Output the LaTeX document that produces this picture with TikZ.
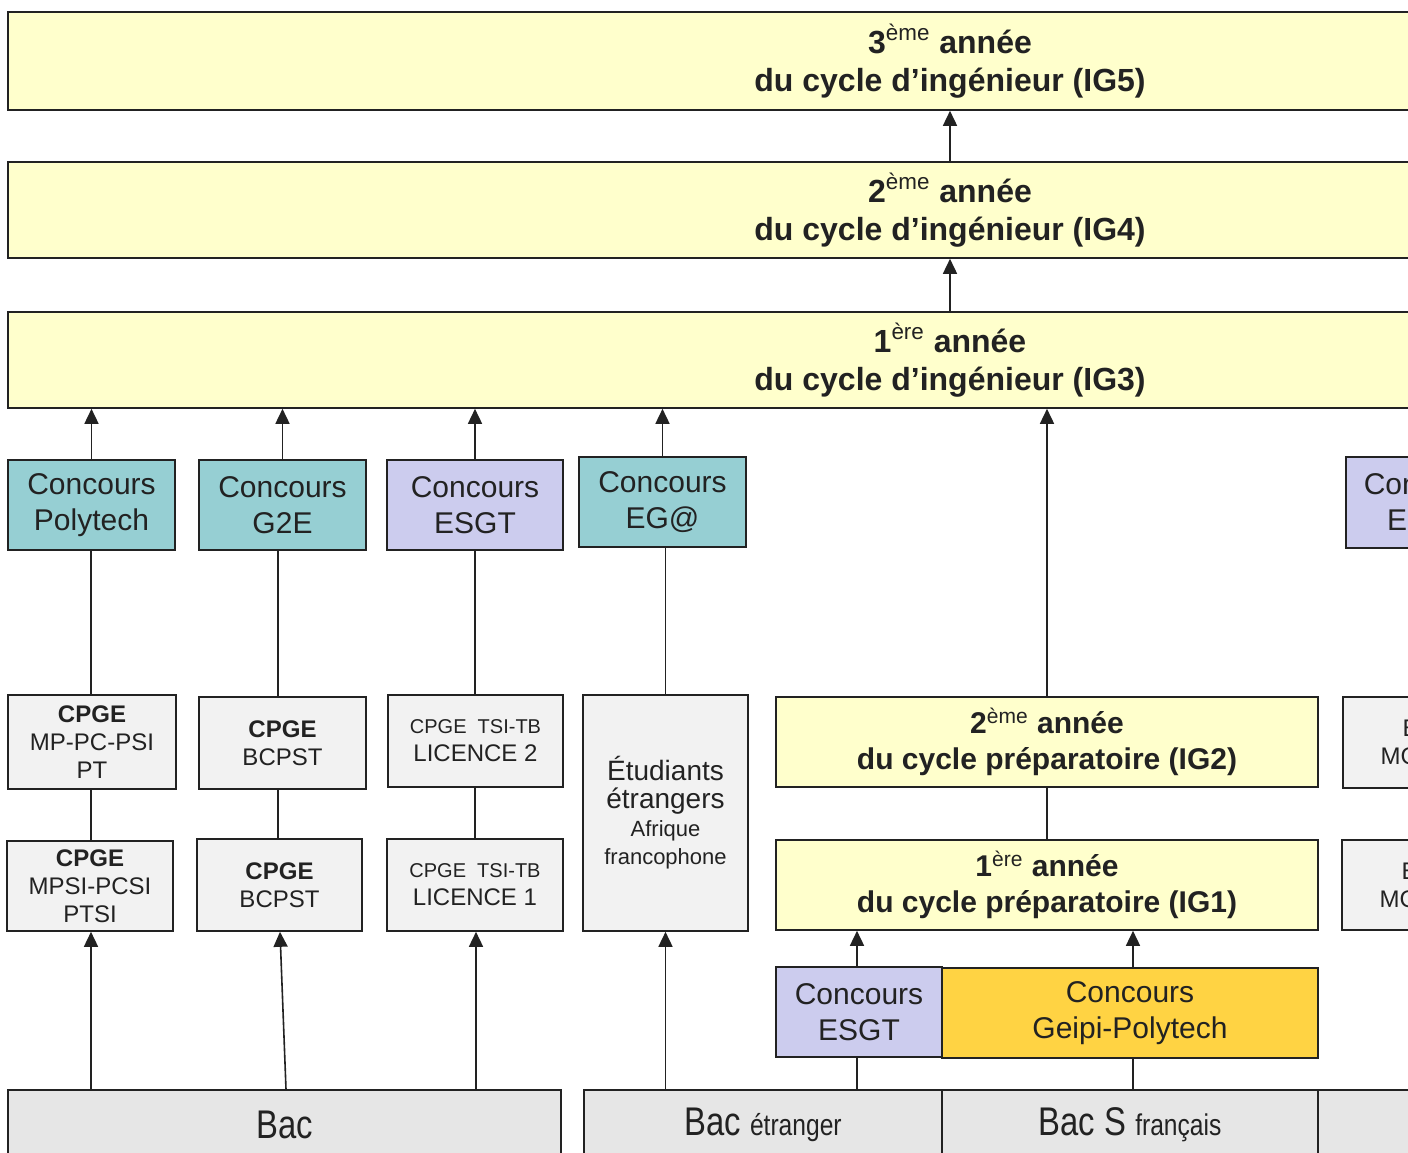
\documentclass[tikz,border=0pt]{standalone}
\usepackage{fontspec}
\setmainfont{Liberation Sans}
\newfontfamily\narrowfont[FakeStretch=0.82]{Liberation Sans}
\usetikzlibrary{arrows.meta, positioning}

\definecolor{igyellow}{HTML}{FFFFCC}
\definecolor{cteal}{HTML}{96CFD3}
\definecolor{clav}{HTML}{CCCCEE}
\definecolor{cgold}{HTML}{FFD343}
\definecolor{cgray}{HTML}{F2F2F2}
\definecolor{bacgray}{HTML}{E6E6E6}
\definecolor{ink}{HTML}{222222}

\tikzset{
  box/.style={draw=ink, line width=0.8pt, inner sep=0pt, align=center, text=ink},
  igbox/.style={box, fill=igyellow, font=\bfseries\fontsize{16}{19}\selectfont},
  prepbox/.style={box, fill=igyellow, font=\bfseries\fontsize{15}{18}\selectfont},
  tealbox/.style={box, fill=cteal, font=\fontsize{15}{18}\selectfont},
  lavbox/.style={box, fill=clav, font=\fontsize{15}{18}\selectfont},
  goldbox/.style={box, fill=cgold, font=\fontsize{15}{18}\selectfont},
  cpgebox/.style={box, fill=cgray, font=\fontsize{12}{14}\selectfont},
  bacbox/.style={box, fill=bacgray, font=\narrowfont},
  arr/.style={draw=ink, line width=0.8pt, -{Triangle[length=7.5pt,width=7pt]}},
  link/.style={draw=ink, line width=0.8pt}
}
\newcommand{\rangsup}[1]{\textsuperscript{\mdseries #1}}
\newcommand{\petit}[1]{{\fontsize{10}{14}\selectfont #1}}

\begin{document}
\begin{tikzpicture}[x=0.5pt, y=-0.5pt]
  \useasboundingbox (0,0) rectangle (1408,1152);
  \clip (0,0) rectangle (1408,1152);

  % Cycle d'ingenieur
  \node[igbox, minimum width=942pt, minimum height=49pt] (ig5) at (950,61)
    {3\rangsup{ème} année\\du cycle d’ingénieur (IG5)};
  \node[igbox, minimum width=942pt, minimum height=48pt] (ig4) at (950,210)
    {2\rangsup{ème} année\\du cycle d’ingénieur (IG4)};
  \node[igbox, minimum width=942pt, minimum height=48pt] (ig3) at (950,360)
    {1\rangsup{ère} année\\du cycle d’ingénieur (IG3)};

  % Concours
  \node[tealbox, minimum width=83.5pt, minimum height=45pt] (cPoly) at (91.5,505) {Concours\\Polytech};
  \node[tealbox, minimum width=83.5pt, minimum height=45pt] (cG2E) at (282.5,505) {Concours\\G2E};
  \node[lavbox, minimum width=88pt, minimum height=45pt] (cESGT) at (475,505) {Concours\\ESGT};
  \node[tealbox, minimum width=83.5pt, minimum height=45pt] (cEGA) at (662.5,502) {Concours\\EG@};
  \node[lavbox, minimum width=82pt, minimum height=45.5pt] (cESGTr) at (1428,502.5) {Concours\\ESGT};

  % Classes preparatoires et licences
  \node[cpgebox, minimum width=84pt, minimum height=47pt] (cpgeA2) at (92,742)
    {\textbf{CPGE}\\MP-PC-PSI\\PT};
  \node[cpgebox, minimum width=83.5pt, minimum height=46pt] (cpgeB2) at (282.5,743)
    {\textbf{CPGE}\\BCPST};
  \node[cpgebox, minimum width=87.5pt, minimum height=46pt] (lic2) at (475.5,741)
    {\petit{CPGE\ \ TSI-TB}\\LICENCE 2};
  \node[cpgebox, minimum width=83pt, minimum height=45pt] (cpgeA1) at (90,886)
    {\textbf{CPGE}\\MPSI-PCSI\\PTSI};
  \node[cpgebox, minimum width=82.5pt, minimum height=46pt] (cpgeB1) at (279.5,885)
    {\textbf{CPGE}\\BCPST};
  \node[cpgebox, minimum width=88pt, minimum height=46pt] (lic1) at (475,885)
    {\petit{CPGE\ \ TSI-TB}\\LICENCE 1};
  \node[cpgebox, minimum width=82.5pt, minimum height=118pt] (etud) at (665.5,813)
    {{\fontsize{14}{14}\selectfont Étudiants}\\{\fontsize{14}{14}\selectfont étrangers}\\
     {\fontsize{11}{13.5}\selectfont Afrique}\\{\fontsize{11}{13.5}\selectfont francophone}};
  \node[cpgebox, minimum width=83pt, minimum height=45.5pt] (bts2) at (1426,742.5) {BTS\\MGTMN};
  \node[cpgebox, minimum width=83pt, minimum height=45pt] (bts1) at (1425,885) {BTS\\MGTMN};

  % Cycle preparatoire
  \node[prepbox, minimum width=271pt, minimum height=45pt] (ig2) at (1047,742)
    {2\rangsup{ème} année\\du cycle préparatoire (IG2)};
  \node[prepbox, minimum width=271pt, minimum height=45pt] (ig1) at (1047,885)
    {1\rangsup{ère} année\\du cycle préparatoire (IG1)};
  \node[lavbox, minimum width=83pt, minimum height=45pt] (cESGTb) at (859,1012) {Concours\\ESGT};
  \node[goldbox, minimum width=188pt, minimum height=45pt] (geipi) at (1130,1013) {Concours\\Geipi-Polytech};

  % Bac
  \node[bacbox, minimum width=276.5pt, minimum height=35pt] (bac) at (284.5,1125)
    {\fontsize{20}{24}\selectfont Bac};
  \node[bacbox, minimum width=179pt, minimum height=35pt] (bacE) at (763,1125)
    {\fontsize{20}{24}\selectfont Bac \fontsize{15}{18}\selectfont étranger};
  \node[bacbox, minimum width=188pt, minimum height=35pt] (bacS) at (1130,1125)
    {\fontsize{20}{24}\selectfont Bac S \fontsize{15}{18}\selectfont français};
  \node[bacbox, minimum width=141pt, minimum height=35pt] (bacR) at (1459,1125) {};

  % Connexions
  \draw[arr] (ig4) -- (ig5);
  \draw[arr] (ig3) -- (ig4);
  \foreach \c in {cPoly, cG2E, cESGT, cEGA}
    \draw[arr] (\c.north) -- (\c.north |- ig3.south);
  \draw[arr] (ig2.north) -- (ig2.north |- ig3.south);
  \draw[link] (cpgeA2.north -| 91,0) -- (cPoly.south -| 91,0);
  \draw[link] (cpgeB2.north -| 278,0) -- (cG2E.south -| 278,0);
  \draw[link] (lic2.north -| 475,0) -- (cESGT.south -| 475,0);
  \draw[link] (etud.north) -- (etud.north |- cEGA.south);
  \draw[link] (cpgeA1.north -| 91,0) -- (cpgeA2.south -| 91,0);
  \draw[link] (cpgeB1.north -| 278,0) -- (cpgeB2.south -| 278,0);
  \draw[link] (lic1.north -| 475,0) -- (lic2.south -| 475,0);
  \draw[link] (ig1) -- (ig2);
  \draw[arr] (bac.north -| 91,0) -- (cpgeA1.south -| 91,0);
  \draw[arr] (bac.north -| 286,0) -- (cpgeB1.south -| 280,0);
  \draw[arr] (bac.north -| 476,0) -- (lic1.south -| 476,0);
  \draw[arr] (bacE.north -| etud) -- (etud);
  \draw[arr] (cESGTb.north -| 857,0) -- (ig1.south -| 857,0);
  \draw[arr] (geipi.north -| 1133,0) -- (ig1.south -| 1133,0);
  \draw[link] (bacE.north -| 857,0) -- (cESGTb.south -| 857,0);
  \draw[link] (bacS.north -| 1133,0) -- (geipi.south -| 1133,0);
\end{tikzpicture}
\end{document}
